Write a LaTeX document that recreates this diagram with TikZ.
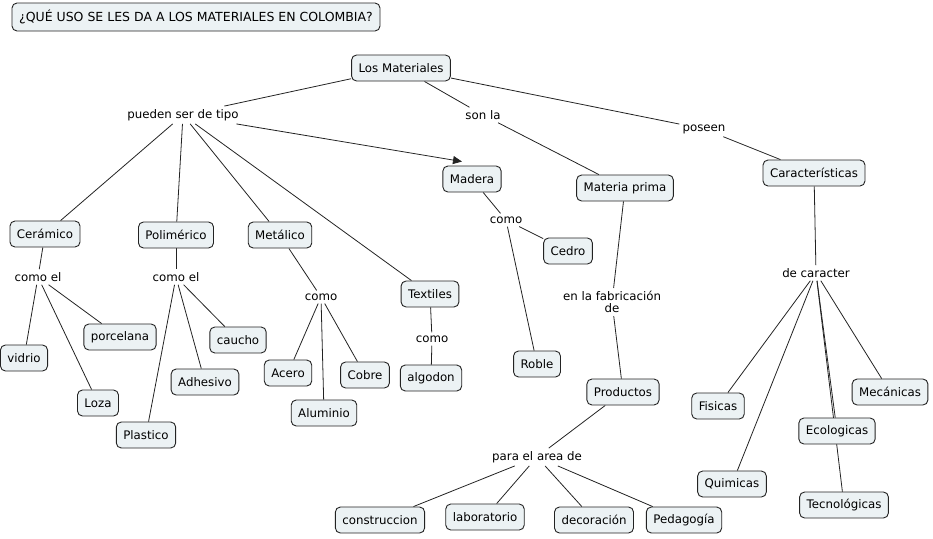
\documentclass[tikz,border=0pt]{standalone}
\usepackage{fontspec}
\setmainfont{DejaVu Sans}
\usepackage{tikz}
\usetikzlibrary{arrows.meta}
\definecolor{cmapfill}{RGB}{236,242,244}
\definecolor{cmapline}{RGB}{35,35,35}
\pgfdeclarelayer{back}
\pgfsetlayers{back,main}

\begin{document}
\begin{tikzpicture}[x=1pt,y=-1pt,
  font=\fontsize{11.8}{14}\selectfont,
  concept/.style={draw=cmapline, fill=cmapfill, rounded corners=5pt, line width=0.9pt,
    inner xsep=7pt, minimum height=26pt},
  link/.style={inner sep=3pt},
  edge/.style={line width=0.8pt, cmapline}]
\useasboundingbox (0,0) rectangle (933,538);

% title
\node[concept, minimum width=368pt, minimum height=28pt, font=\fontsize{12.5}{14}\selectfont] (title) at (196,17) {¿QUÉ USO SE LES DA A LOS MATERIALES EN COLOMBIA?};

% top level
\node[concept] (mat) at (401,68) {Los Materiales};
\node[link] (pst) at (183,115) {pueden ser de tipo};
\node[link] (sonla) at (483,115) {son la};
\node[link] (pos) at (704,129) {poseen};

% tipos
\node[concept] (cer) at (45,234) {Cerámico};
\node[concept] (pol) at (176,235) {Polimérico};
\node[concept] (met) at (280,235) {Metálico};
\node[concept] (tex) at (430,294) {Textiles};
\node[concept] (mad) at (472,179) {Madera};

\node[link] (cmcer) at (38,277) {como el};
\node[link] (cmpol) at (176,277) {como el};
\node[link] (cmmet) at (321,297) {como};
\node[link] (cmtex) at (432,339) {como};
\node[link] (cmmad) at (506,220) {como};

\node[concept] (vid) at (24,358) {vidrio};
\node[concept] (por) at (120,337) {porcelana};
\node[concept] (loz) at (98,403) {Loza};
\node[concept] (cau) at (238,340) {caucho};
\node[concept] (adh) at (205,382) {Adhesivo};
\node[concept] (pla) at (146,435) {Plastico};
\node[concept] (ace) at (288,373) {Acero};
\node[concept] (alu) at (324,413) {Aluminio};
\node[concept] (cob) at (365,375) {Cobre};
\node[concept] (alg) at (431,378) {algodon};
\node[concept] (ced) at (568,251) {Cedro};
\node[concept] (rob) at (537,364) {Roble};

% materia prima
\node[concept] (mp) at (625,188) {Materia prima};
\node[link, align=center] (fab) at (612,302) {en la fabricación\\[-2pt]de};
\node[concept] (prod) at (623,392) {Productos};
\node[link] (area) at (537,457) {para el area de};
\node[concept] (con) at (380,520) {construccion};
\node[concept] (lab) at (485,517) {laboratorio};
\node[concept] (dec) at (594,520) {decoración};
\node[concept] (ped) at (684,520) {Pedagogía};

% caracteristicas
\node[concept] (car) at (814,173) {Características};
\node[link] (dcar) at (816,273) {de caracter};
\node[concept] (fis) at (718,406) {Fisicas};
\node[concept] (qui) at (732,484) {Quimicas};
\node[concept] (eco) at (837,431) {Ecologicas};
\node[concept] (tec) at (844,505) {Tecnológicas};
\node[concept] (mec) at (890,392) {Mecánicas};

\begin{pgfonlayer}{back}
\foreach \a/\b in {mat/pst, mat/sonla, mat/pos, sonla/mp, pos/car,
    pst/cer, pst/pol, pst/met, pst/tex,
    cer/cmcer, cmcer/vid, cmcer/por, cmcer/loz,
    pol/cmpol, cmpol/cau, cmpol/adh, cmpol/pla,
    met/cmmet, cmmet/ace, cmmet/alu, cmmet/cob,
    tex/cmtex, cmtex/alg,
    mad/cmmad, cmmad/ced, cmmad/rob,
    mp/fab, fab/prod, prod/area, area/con, area/lab, area/dec, area/ped,
    car/dcar, dcar/fis, dcar/qui, dcar/eco, dcar/tec, dcar/mec}
  \draw[edge] (\a) -- (\b);
\draw[edge, -{Triangle[length=9pt, width=8pt]}] (pst) -- ([xshift=-10pt, yshift=4pt]mad.north);
\end{pgfonlayer}
\end{tikzpicture}
\end{document}
